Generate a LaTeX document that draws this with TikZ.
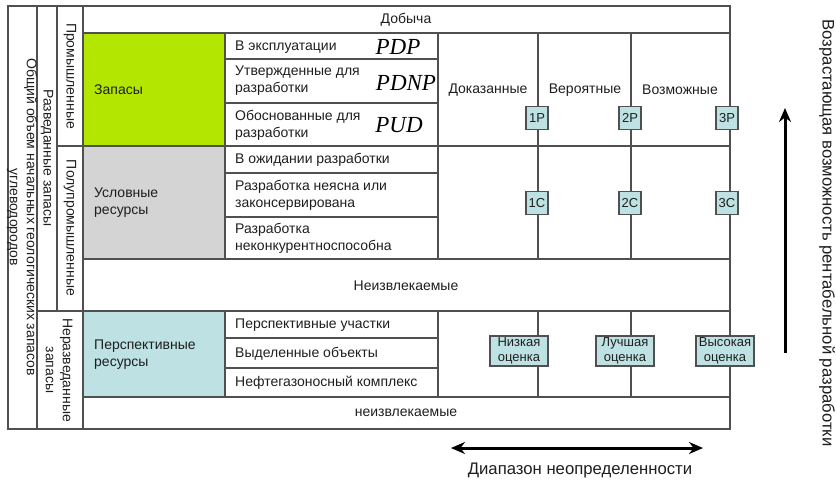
\documentclass[tikz,border=0pt]{standalone}
\usepackage{fontspec}
\setmainfont{Liberation Sans}
\newfontfamily\serifit{Liberation Serif}
\usetikzlibrary{arrows.meta}
\definecolor{linec}{HTML}{505050}
\definecolor{zgreen}{HTML}{B3E600}
\definecolor{zgray}{HTML}{D4D4D4}
\definecolor{zteal}{HTML}{BEE2E4}
\definecolor{txt}{HTML}{1E1E1E}
\begin{document}
\begin{tikzpicture}[x=1pt,y=-1pt,
  grid/.style={draw=linec,line width=1.3pt},
  lbl/.style={font=\fontsize{14}{17}\selectfont,text=txt,inner sep=0pt},
  sub/.style={lbl,anchor=west,align=left},
  vert/.style={lbl,rotate=-90,align=center},
  pcode/.style={font=\fontsize{23}{23}\selectfont\serifit\itshape,inner sep=0pt,text=black},
  cat/.style={draw=linec,line width=1.2pt,fill=zteal,minimum width=22pt,minimum height=23pt,inner sep=0pt,font=\fontsize{13}{13}\selectfont,text=txt},
  est/.style={draw=linec,line width=1.2pt,fill=zteal,minimum width=58pt,minimum height=30pt,inner sep=0pt,align=center,font=\fontsize{13}{15}\selectfont,text=txt},
  bigarrow/.style={line width=3pt,draw=black,-{Stealth[length=14pt,width=12pt]}},
  bigarrows/.style={line width=3pt,draw=black,{Stealth[length=14pt,width=12pt]}-{Stealth[length=14pt,width=12pt]}}
]
\useasboundingbox (0,0) rectangle (836,480);
% coloured cells
\fill[zgreen] (83,33) rectangle (225,146);
\fill[zgray] (83,146) rectangle (225,259);
\fill[zteal] (83,311) rectangle (225,397);
% grid
\draw[grid] (8,6) rectangle (730,429);
\draw[grid] (37,6) -- (37,429);
\draw[grid] (57,6) -- (57,311);
\draw[grid] (83,6) -- (83,429);
\draw[grid] (83,33) -- (730,33);
\draw[grid] (57,146) -- (730,146);
\draw[grid] (83,259) -- (730,259);
\draw[grid] (37,311) -- (730,311);
\draw[grid] (83,397) -- (730,397);
\draw[grid] (225,33) -- (225,259);
\draw[grid] (225,311) -- (225,397);
\draw[grid] (438,33) -- (438,259);
\draw[grid] (438,311) -- (438,397);
\draw[grid] (538,33) -- (538,259);
\draw[grid] (538,311) -- (538,397);
\draw[grid] (631,33) -- (631,259);
\draw[grid] (631,311) -- (631,397);
\foreach \yy in {59,103,173,217,338,368} \draw[grid] (225,\yy) -- (438,\yy);
% left vertical labels
\node[vert] (total) at (22,217) {Общий объем начальных геологических запасов\\углеводородов};
\node[vert] (explored) at (47,158) {Разведанные запасы};
\node[vert] (industrial) at (70,76) {Промышленные};
\node[vert] (semi) at (70,228) {Полупромышленные};
\node[vert] (unexplored) at (59,370) {Неразведанные\\запасы};
% category cells
\node[sub] (reserves) at (94,90) {Запасы};
\node[sub] (contingent) at (94,203) {Условные\\ресурсы};
\node[sub] (prospective) at (94,355) {Перспективные\\ресурсы};
% header / rows
\node[lbl] (prod) at (406,20) {Добыча};
\node[lbl] (unrec1) at (406,286) {Неизвлекаемые};
\node[lbl] (unrec2) at (406,413) {неизвлекаемые};
% sub rows
\node[sub] (r1) at (235,47) {В эксплуатации};
\node[sub] (r2) at (235,81) {Утвержденные для\\разработки};
\node[sub] (r3) at (235,125) {Обоснованные для\\разработки};
\node[sub] (r4) at (235,160) {В ожидании разработки};
\node[sub] (r5) at (235,195) {Разработка неясна или\\законсервирована};
\node[sub] (r6) at (235,238) {Разработка\\неконкурентноспособна};
\node[sub] (r7) at (235,325) {Перспективные участки};
\node[sub] (r8) at (235,354) {Выделенные объекты};
\node[sub] (r9) at (235,383) {Нефтегазоносный комплекс};
% codes
\node[pcode] (pdp) at (398,47) {PDP};
\node[pcode] (pdnp) at (406,83) {PDNP};
\node[pcode] (pud) at (399,125) {PUD};
% column labels
\node[lbl] (proved) at (488,90) {Доказанные};
\node[lbl] (probable) at (585,90) {Вероятные};
\node[lbl] (possible) at (680,90) {Возможные};
% category boxes
\node[cat] (p1) at (537,118) {1P};
\node[cat] (p2) at (630,118) {2P};
\node[cat] (p3) at (727,118) {3P};
\node[cat] (c1) at (537,203) {1C};
\node[cat] (c2) at (630,203) {2C};
\node[cat] (c3) at (727,203) {3C};
\node[est] (low) at (519,351) {Низкая\\оценка};
\node[est] (best) at (625,351) {Лучшая\\оценка};
\node[est] (high) at (725,351) {Высокая\\оценка};
% arrows
\coordinate (vb) at (785,353);
\coordinate (vt) at (785,108);
\draw[bigarrow] (vb) -- (vt);
\node[lbl,rotate=-90,font=\fontsize{16.7}{17}\selectfont] (profit) at (827,233) {Возрастающая возможность рентабельной разработки};
\coordinate (hl) at (451,448);
\coordinate (hr) at (703,448);
\draw[bigarrows] (hl) -- (hr);
\node[lbl,font=\fontsize{16.7}{17}\selectfont] (range) at (580,470) {Диапазон неопределенности};
\end{tikzpicture}
\end{document}
